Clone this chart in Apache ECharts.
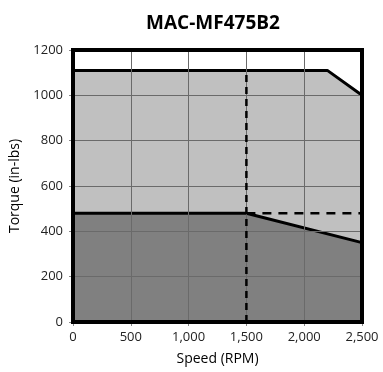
<!DOCTYPE html>
<html>
<head>
<meta charset="utf-8">
<script src="https://cdn.jsdelivr.net/npm/echarts@6/dist/echarts.min.js"></script>
<style>
  html, body { margin: 0; padding: 0; background: #fff; }
  #chart { width: 383px; height: 372px; }
</style>
</head>
<body>
<div id="chart"></div>
<script>
// 数据
var peakSpeed = [0, 2200, 2500];
var peakTorque = [1110, 1110, 1000];
var contSpeed = [0, 1500, 2500];
var contTorque = [480, 480, 350];
var cornerSpeed = [1500, 1500];
var cornerTorque = [0, 1110];
var ratedSpeed = [1500, 2500];
var ratedTorque = [480, 480];
var yTicks = [0, 200, 400, 600, 800, 1000, 1200];
var xTicks = [0, 500, 1000, 1500, 2000, 2500];

function pairs(xs, ys) {
    return xs.map(function (x, i) { return [x, ys[i]]; });
}

var font = 'Open Sans';
var myChart = echarts.init(document.getElementById('chart'));

var option = {
    animation: false,
    title: {
        text: 'MAC-MF475B2',
        left: 208,
        textAlign: 'center',
        top: 9,
        textStyle: { fontFamily: font, fontSize: 19, fontWeight: 'bold', color: '#000' }
    },
    grid: {
        left: 73, right: 21, top: 50, bottom: 50,
        show: true, borderColor: '#000', borderWidth: 4,
        backgroundColor: 'transparent', z: 10
    },
    xAxis: {
        type: 'value',
        min: xTicks[0], max: xTicks[xTicks.length - 1], interval: 500,
        name: 'Speed (RPM)', nameLocation: 'middle', nameGap: 30,
        nameTextStyle: { fontFamily: font, fontSize: 14, color: '#000' },
        axisLine: { show: false },
        axisTick: { show: true, length: 4, lineStyle: { color: '#888' } },
        axisLabel: {
            fontFamily: font, fontSize: 13, color: '#222', margin: 9,
            formatter: function (v) { return v.toLocaleString('en-US'); }
        },
        splitLine: { show: true, lineStyle: { color: '#6a6a6a', width: 1 } },
        z: 5
    },
    yAxis: {
        type: 'value',
        min: yTicks[0], max: yTicks[yTicks.length - 1], interval: 200,
        name: 'Torque (in-lbs)', nameLocation: 'middle', nameGap: 48,
        nameTextStyle: { fontFamily: font, fontSize: 14, color: '#000' },
        axisLine: { show: false },
        axisTick: { show: true, length: 4, lineStyle: { color: '#888' } },
        axisLabel: {
            fontFamily: font, fontSize: 13, color: '#222', margin: 10,
            formatter: function (v) { return String(v); }
        },
        splitLine: { show: true, lineStyle: { color: '#6a6a6a', width: 1 } },
        z: 5
    },
    series: [
        {
            name: 'peak', type: 'line', symbol: 'none', z: 2,
            data: pairs(peakSpeed, peakTorque),
            lineStyle: { color: '#000', width: 3 },
            areaStyle: { color: '#c0c0c0', opacity: 1, origin: 'start' }
        },
        {
            name: 'cont', type: 'line', symbol: 'none', z: 3,
            data: pairs(contSpeed, contTorque),
            lineStyle: { color: '#000', width: 3 },
            areaStyle: { color: '#808080', opacity: 1, origin: 'start' }
        },
        {
            name: 'corner', type: 'line', symbol: 'none', z: 6,
            data: pairs(cornerSpeed, cornerTorque),
            lineStyle: { color: '#000', width: 2.5, type: [7, 5] }
        },
        {
            name: 'rated', type: 'line', symbol: 'none', z: 6,
            data: pairs(ratedSpeed, ratedTorque),
            lineStyle: { color: '#000', width: 2.5, type: [9, 7] }
        }
    ]
};

myChart.setOption(option);
</script>
</body>
</html>
